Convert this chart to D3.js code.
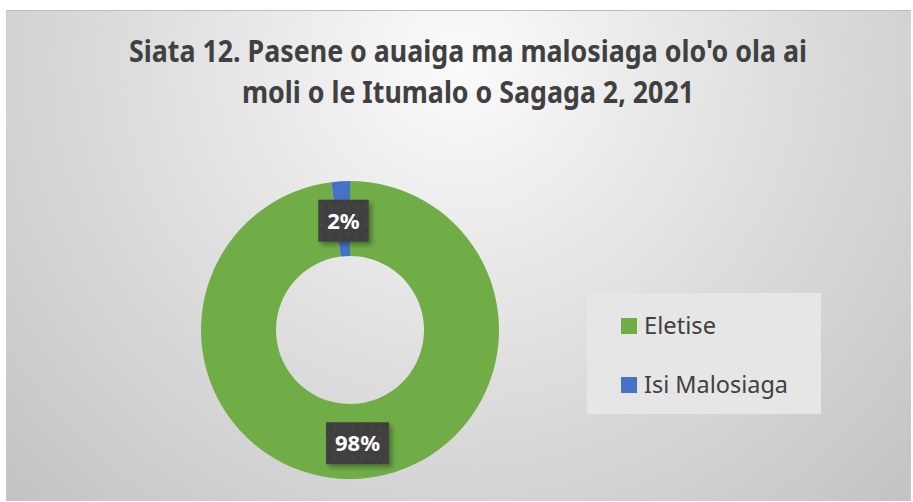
<!DOCTYPE html>
<html>
<head>
<meta charset="utf-8">
<script src="https://cdn.jsdelivr.net/npm/d3@7"></script>
<style>
  body { margin: 0; background: #fff; }
  svg { display: block; }
</style>
</head>
<body>
<div class="content"></div>
<script>
var size = {width: 913, height: 502};

var categories = ["Eletise", "Isi Malosiaga"];
var values = [98, 2];
var labels = ["98%", "2%"];
var colors = ["#70AD47", "#4472C4"];
var titleLines = ["Siata 12. Pasene o auaiga ma malosiaga olo'o ola ai", "moli o le Itumalo o Sagaga 2, 2021"];

var chart = d3.select('.content')
    .append('svg')
    .attr('width', size.width)
    .attr('height', size.height);

var defs = chart.append('defs');

// background gradient, light at the top centre
var grad = defs.append('radialGradient')
    .attr('id', 'bg')
    .attr('gradientUnits', 'userSpaceOnUse')
    .attr('cx', 460).attr('cy', 60).attr('r', 620)
    .attr('fx', 460).attr('fy', 60);
grad.append('stop').attr('offset', '0%').attr('stop-color', '#fbfbfb');
grad.append('stop').attr('offset', '55%').attr('stop-color', '#dcdcdc');
grad.append('stop').attr('offset', '100%').attr('stop-color', '#c4c4c4');

// dotted fill for data label boxes
var pat = defs.append('pattern')
    .attr('id', 'dots')
    .attr('patternUnits', 'userSpaceOnUse')
    .attr('width', 9).attr('height', 9);
pat.append('rect').attr('width', 9).attr('height', 9).attr('fill', '#404040');
pat.append('circle').attr('cx', 4.5).attr('cy', 4.5).attr('r', 1.3).attr('fill', '#4b4b4b');

var shadow = defs.append('filter').attr('id', 'shadow')
    .attr('x', '-30%').attr('y', '-30%').attr('width', '170%').attr('height', '170%');
shadow.append('feDropShadow')
    .attr('dx', 3).attr('dy', 3).attr('stdDeviation', 2.5)
    .attr('flood-color', '#000').attr('flood-opacity', 0.35);

chart.append('rect')
    .attr('x', 6).attr('y', 10)
    .attr('width', 905).attr('height', 491)
    .attr('fill', 'url(#bg)');
chart.append('line')
    .attr('x1', 6).attr('x2', 911).attr('y1', 10.5).attr('y2', 10.5)
    .attr('stroke', '#bdbdbd');

// title
var titleWidths = [678, 452];
chart.selectAll('text.title')
    .data(titleLines)
    .enter().append('text')
    .attr('class', 'title')
    .attr('x', 468)
    .attr('y', function(d, i) { return 62 + i * 41; })
    .attr('text-anchor', 'middle')
    .attr('textLength', function(d, i) { return titleWidths[i]; })
    .attr('lengthAdjust', 'spacingAndGlyphs')
    .style('font-family', '"Noto Sans", "Open Sans", sans-serif')
    .style('font-weight', 'bold')
    .style('font-size', '29.5px')
    .style('fill', '#404040')
    .text(function(d) { return d; });

// donut
var cx = 350, cy = 330, outerR = 149, innerR = 74;
var pie = d3.pie().sort(null).value(function(d) { return d; });
var arc = d3.arc().innerRadius(innerR).outerRadius(outerR);
var labelArc = d3.arc().innerRadius((innerR + outerR) / 2).outerRadius((innerR + outerR) / 2);
var arcs = pie(values);

var g = chart.append('g').attr('transform', 'translate(' + cx + ',' + cy + ')');
g.selectAll('path')
    .data(arcs)
    .enter().append('path')
    .attr('d', arc)
    .attr('fill', function(d, i) { return colors[i]; });

var lbl = g.selectAll('g.lbl')
    .data(arcs)
    .enter().append('g')
    .attr('class', 'lbl')
    .attr('transform', function(d) {
        var c = labelArc.centroid(d);
        return 'translate(' + (c[0] + 0.5) + ',' + (c[1] + 2) + ')';
    });
var lblBox = lbl.append('rect')
    .attr('y', -21)
    .attr('height', 42)
    .attr('fill', 'url(#dots)')
    .attr('filter', 'url(#shadow)');
var lblText = lbl.append('text')
    .attr('text-anchor', 'middle')
    .attr('y', 8)
    .style('font-family', '"Noto Sans", "Open Sans", sans-serif')
    .style('font-weight', 'bold')
    .style('font-size', '22px')
    .style('fill', '#fff')
    .text(function(d, i) { return labels[i]; });
lblText.each(function(d, i) {
    var w = this.getComputedTextLength() + 18;
    d3.select(lblBox.nodes()[i]).attr('x', -w / 2).attr('width', w);
});

// legend
var legend = chart.append('g');
legend.append('rect')
    .attr('x', 587).attr('y', 293)
    .attr('width', 234).attr('height', 121)
    .attr('fill', '#e6e6e6');
var legendWidths = [72, 144];
var item = legend.selectAll('g.item')
    .data(categories)
    .enter().append('g')
    .attr('class', 'item')
    .attr('transform', function(d, i) { return 'translate(621,' + (318 + i * 59) + ')'; });
item.append('rect')
    .attr('width', 16).attr('height', 16)
    .attr('fill', function(d, i) { return colors[i]; });
item.append('text')
    .attr('x', 23).attr('y', 16)
    .attr('textLength', function(d, i) { return legendWidths[i]; })
    .attr('lengthAdjust', 'spacingAndGlyphs')
    .style('font-family', '"Noto Sans", "Open Sans", sans-serif')
    .style('font-size', '24px')
    .style('fill', '#404040')
    .text(function(d) { return d; });
</script>
</body>
</html>
